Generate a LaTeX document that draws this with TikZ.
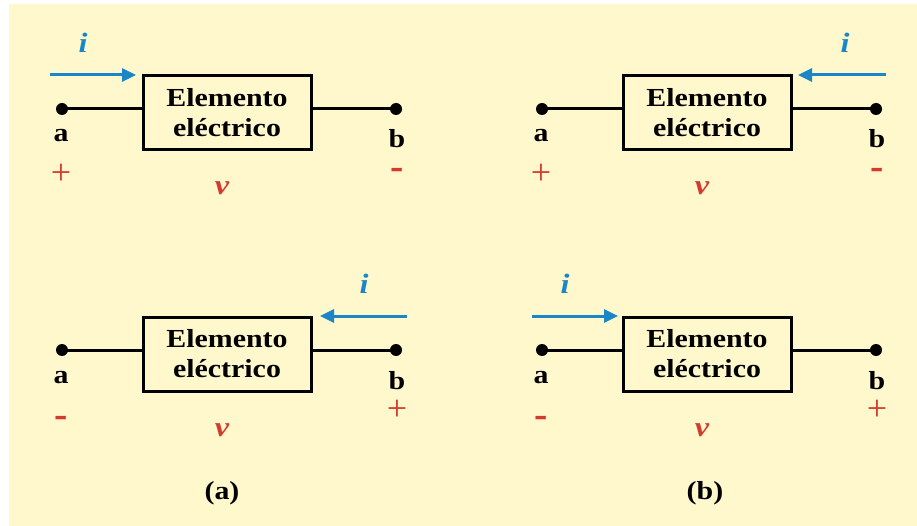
\documentclass[tikz,border=0pt]{standalone}
\usepackage{fontspec}
\setmainfont{Liberation Serif}
\newfontfamily\wide[FakeStretch=1.15]{Liberation Serif}
\usetikzlibrary{arrows.meta}
\definecolor{bg}{HTML}{FFF8CC}
\definecolor{curblue}{HTML}{1A86C6}
\definecolor{volred}{HTML}{D33B2F}
\tikzset{
  elem/.style={draw, line width=3pt, minimum width=168pt, minimum height=74pt, inner sep=0pt, align=center,
    font=\wide\bfseries\fontsize{26}{30}\selectfont},
  term/.style={circle, fill=black, inner sep=0pt, minimum size=12pt},
  wire/.style={line width=3pt},
  lbl/.style={font=\wide\bfseries\fontsize{26}{30}\selectfont, inner sep=0pt, anchor=base},
  cur/.style={draw=curblue, line width=3pt, -{Triangle[length=14pt,width=13pt]}},
  curlbl/.style={text=curblue, font=\wide\bfseries\itshape\fontsize{28}{30}\selectfont, anchor=base, inner sep=0pt},
  vlbl/.style={text=volred, font=\wide\bfseries\itshape\fontsize{28}{30}\selectfont, anchor=base, inner sep=0pt},
  plussign/.style={text=volred, font=\fontsize{36}{36}\selectfont, inner sep=0pt, anchor=base},
  minussign/.style={text=volred, font=\bfseries\fontsize{40}{40}\selectfont, inner sep=0pt, anchor=base},
  caplbl/.style={font=\wide\bfseries\fontsize{26}{30}\selectfont, anchor=base, inner sep=0pt}
}
\begin{document}
\begin{tikzpicture}[x=1pt,y=-1pt]
\useasboundingbox (0,0) rectangle (917,526);
\fill[white] (0,0) rectangle (917,526);
\fill[bg] (9,4) rectangle (917,526);

% ---- top left
\node[elem] (E1) at (227,113) {Elemento\\eléctrico};
\node[term] (A1) at (62,109) {};
\node[term] (B1) at (396,109) {};
\draw[wire] (A1.center) -- (A1.center -| E1.west);
\draw[wire] (B1.center) -- (B1.center -| E1.east);
\node[lbl] (la1) at (61,142) {a};
\node[lbl] (lb1) at (397,148) {b};
\node[plussign] (p1) at (61,185) {+};
\node[minussign] (m1) at (397,180) {-};
\node[vlbl] (v1) at (222,195) {v};
\coordinate (s1) at (50,75);
\coordinate (t1) at (136,75);
\draw[cur] (s1) -- (t1);
\node[curlbl] (i1) at (83,53) {i};

% ---- top right
\begin{scope}[shift={(480,0)}]
\node[elem] (E2) at (227,113) {Elemento\\eléctrico};
\node[term] (A2) at (62,109) {};
\node[term] (B2) at (396,109) {};
\draw[wire] (A2.center) -- (A2.center -| E2.west);
\draw[wire] (B2.center) -- (B2.center -| E2.east);
\node[lbl] (la2) at (61,142) {a};
\node[lbl] (lb2) at (397,148) {b};
\node[plussign] (p2) at (61,185) {+};
\node[minussign] (m2) at (397,180) {-};
\node[vlbl] (v2) at (222,195) {v};
\coordinate (s2) at (406,75);
\coordinate (t2) at (318,75);
\draw[cur] (s2) -- (t2);
\node[curlbl] (i2) at (365,53) {i};
\end{scope}

% ---- bottom left
\begin{scope}[shift={(0,241)}]
\node[elem] (E3) at (227,113) {Elemento\\eléctrico};
\node[term] (A3) at (62,109) {};
\node[term] (B3) at (396,109) {};
\draw[wire] (A3.center) -- (A3.center -| E3.west);
\draw[wire] (B3.center) -- (B3.center -| E3.east);
\node[lbl] (la3) at (61,142) {a};
\node[lbl] (lb3) at (397,148) {b};
\node[minussign] (m3) at (61,186) {-};
\node[plussign] (p3) at (397,179) {+};
\node[vlbl] (v3) at (222,195) {v};
\coordinate (s3) at (407,75);
\coordinate (t3) at (320,75);
\draw[cur] (s3) -- (t3);
\node[curlbl] (i3) at (364,53) {i};
\end{scope}

% ---- bottom right
\begin{scope}[shift={(480,241)}]
\node[elem] (E4) at (227,113) {Elemento\\eléctrico};
\node[term] (A4) at (62,109) {};
\node[term] (B4) at (396,109) {};
\draw[wire] (A4.center) -- (A4.center -| E4.west);
\draw[wire] (B4.center) -- (B4.center -| E4.east);
\node[lbl] (la4) at (61,142) {a};
\node[lbl] (lb4) at (397,148) {b};
\node[minussign] (m4) at (61,186) {-};
\node[plussign] (p4) at (397,179) {+};
\node[vlbl] (v4) at (222,195) {v};
\coordinate (s4) at (52,75);
\coordinate (t4) at (138,75);
\draw[cur] (s4) -- (t4);
\node[curlbl] (i4) at (85,53) {i};
\end{scope}

\node[caplbl] (ca) at (222,499) {(a)};
\node[caplbl] (cb) at (705,499) {(b)};
\end{tikzpicture}
\end{document}
